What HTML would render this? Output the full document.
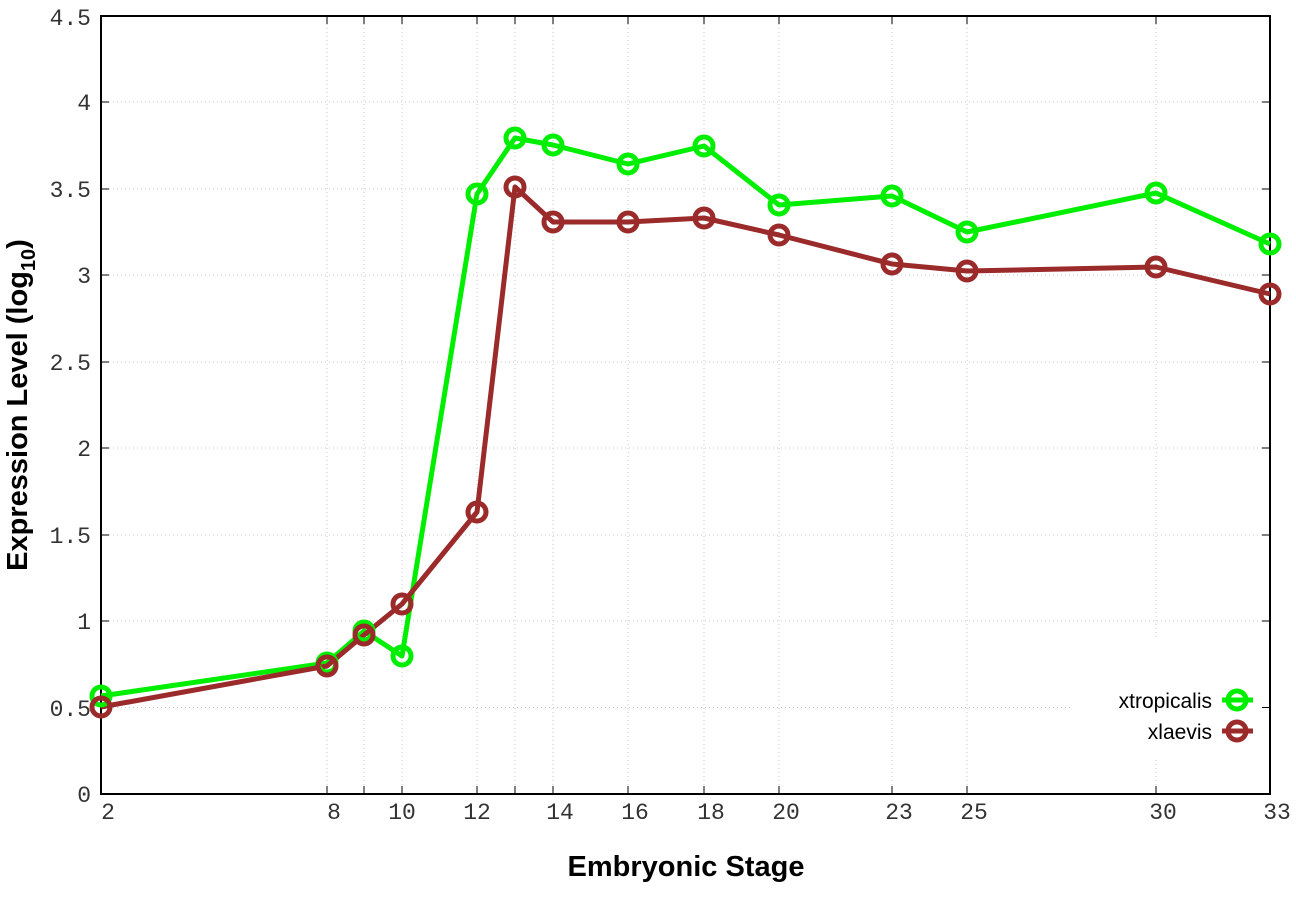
<!DOCTYPE html>
<html><head><style>body{margin:0;background:#fff}</style></head><body>
<svg width="1296" height="907" xmlns="http://www.w3.org/2000/svg">
<rect width="1296" height="907" fill="#fff"/>
<g stroke="#c8c8c8" stroke-width="1" stroke-dasharray="1,3">
<line x1="101" x2="1270" y1="707.5" y2="707.5"/><line x1="101" x2="1270" y1="621" y2="621"/>
<line x1="101" x2="1270" y1="535" y2="535"/><line x1="101" x2="1270" y1="448" y2="448"/>
<line x1="101" x2="1270" y1="362" y2="362"/><line x1="101" x2="1270" y1="275" y2="275"/>
<line x1="101" x2="1270" y1="189" y2="189"/><line x1="101" x2="1270" y1="102" y2="102"/>
<line x1="327" x2="327" y1="16" y2="794"/><line x1="364" x2="364" y1="16" y2="794"/>
<line x1="402" x2="402" y1="16" y2="794"/><line x1="477" x2="477" y1="16" y2="794"/>
<line x1="515" x2="515" y1="16" y2="794"/><line x1="553" x2="553" y1="16" y2="794"/>
<line x1="628" x2="628" y1="16" y2="794"/><line x1="704" x2="704" y1="16" y2="794"/>
<line x1="779" x2="779" y1="16" y2="794"/><line x1="892" x2="892" y1="16" y2="794"/>
<line x1="967" x2="967" y1="16" y2="794"/><line x1="1156" x2="1156" y1="16" y2="794"/>
</g>
<rect x="1070" y="640" width="199" height="120" fill="#fff"/>
<g stroke="#000" stroke-width="1">
<path d="M101,707.5h8M101,621h8M101,535h8M101,448h8M101,362h8M101,275h8M101,189h8M101,102h8M1270,707.5h-8M1270,621h-8M1270,535h-8M1270,448h-8M1270,362h-8M1270,275h-8M1270,189h-8M1270,102h-8"/>
<path d="M327,794v-8M364,794v-8M402,794v-8M477,794v-8M515,794v-8M553,794v-8M628,794v-8M704,794v-8M779,794v-8M892,794v-8M967,794v-8M1156,794v-8M327,16v8M364,16v8M402,16v8M477,16v8M515,16v8M553,16v8M628,16v8M704,16v8M779,16v8M892,16v8M967,16v8M1156,16v8"/>
</g>
<rect x="101" y="16" width="1169" height="778" fill="none" stroke="#000" stroke-width="2"/>
<g font-family="Liberation Mono, monospace" font-size="23" fill="#333" text-anchor="end">
<text x="91" y="802">0</text><text x="91" y="716">0.5</text><text x="91" y="629">1</text>
<text x="91" y="543">1.5</text><text x="91" y="456">2</text><text x="91" y="370">2.5</text>
<text x="91" y="283">3</text><text x="91" y="197">3.5</text><text x="91" y="110">4</text><text x="91" y="25">4.5</text>
</g>
<g font-family="Liberation Mono, monospace" font-size="23" fill="#333" text-anchor="middle">
<text x="108" y="819">2</text><text x="334" y="819">8</text><text x="402" y="819">10</text>
<text x="477" y="819">12</text><text x="560" y="819">14</text><text x="635" y="819">16</text>
<text x="711" y="819">18</text><text x="786" y="819">20</text><text x="899" y="819">23</text>
<text x="974" y="819">25</text><text x="1163" y="819">30</text><text x="1277" y="819">33</text>
</g>
<text x="686" y="876" font-family="Liberation Sans, sans-serif" font-weight="bold" font-size="29" text-anchor="middle">Embryonic Stage</text>
<text transform="translate(27,405) rotate(-90)" font-family="Liberation Sans, sans-serif" font-weight="bold" font-size="29" text-anchor="middle">Expression Level (log<tspan font-size="20" dy="8">10</tspan><tspan dy="-8">)</tspan></text>
<g fill="none" stroke-width="5" stroke-linejoin="round">
<polyline stroke="#00ee00" points="101,696 327,663 364,631 402,656 477,194 515,138 553,145 628,164 704,146 779,205 892,196 967,232 1156,193 1270,244"/>
<polyline stroke="#9b2a2a" points="101,707 327,666 364,635 402,604 477,512 515,187 553,222 628,222 704,218 779,235 892,264 967,271 1156,267 1270,294"/>
<g stroke="#00ee00">
<circle cx="101" cy="696" r="9"/><circle cx="327" cy="663" r="9"/><circle cx="364" cy="631" r="9"/><circle cx="402" cy="656" r="9"/><circle cx="477" cy="194" r="9"/><circle cx="515" cy="138" r="9"/><circle cx="553" cy="145" r="9"/><circle cx="628" cy="164" r="9"/><circle cx="704" cy="146" r="9"/><circle cx="779" cy="205" r="9"/><circle cx="892" cy="196" r="9"/><circle cx="967" cy="232" r="9"/><circle cx="1156" cy="193" r="9"/><circle cx="1270" cy="244" r="9"/>
</g>
<g stroke="#9b2a2a">
<circle cx="101" cy="707" r="9"/><circle cx="327" cy="666" r="9"/><circle cx="364" cy="635" r="9"/><circle cx="402" cy="604" r="9"/><circle cx="477" cy="512" r="9"/><circle cx="515" cy="187" r="9"/><circle cx="553" cy="222" r="9"/><circle cx="628" cy="222" r="9"/><circle cx="704" cy="218" r="9"/><circle cx="779" cy="235" r="9"/><circle cx="892" cy="264" r="9"/><circle cx="967" cy="271" r="9"/><circle cx="1156" cy="267" r="9"/><circle cx="1270" cy="294" r="9"/>
</g>
<line x1="1222" x2="1253" y1="700" y2="700" stroke="#00ee00"/><circle cx="1237" cy="700" r="9" stroke="#00ee00"/>
<line x1="1222" x2="1253" y1="731" y2="731" stroke="#9b2a2a"/><circle cx="1237" cy="731" r="9" stroke="#9b2a2a"/>
</g>
<g font-family="Liberation Sans, sans-serif" font-size="21" fill="#000" text-anchor="end">
<text x="1212" y="708">xtropicalis</text><text x="1212" y="739">xlaevis</text>
</g>
</svg>
</body></html>
